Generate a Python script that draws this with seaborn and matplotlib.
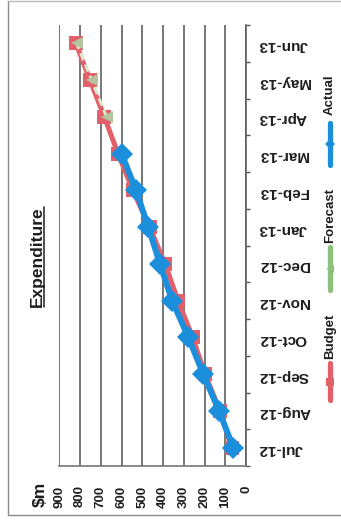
import numpy as np
import pandas as pd
import matplotlib
matplotlib.use("Agg")
import matplotlib.pyplot as plt
import seaborn as sns
from matplotlib.lines import Line2D

# ---------------- data ----------------
months = ["Jul-12", "Aug-12", "Sep-12", "Oct-12", "Nov-12", "Dec-12",
          "Jan-13", "Feb-13", "Mar-13", "Apr-13", "May-13", "Jun-13"]
budget = [69, 125, 198, 257, 328, 390, 465, 545, 617, 683, 752, 820]
forecast = [np.nan] * 9 + [672, 744, 816]
actual = [61, 130, 206, 278, 356, 415, 471, 530, 600] + [np.nan] * 3
value_ticks = [0, 100, 200, 300, 400, 500, 600, 700, 800, 900]
series_names = ["Budget", "Forecast", "Actual"]
title_text = "Expenditure"
unit_text = "$m"

RED = "#E1606A"
GREEN = "#8DC07C"
BLUE = "#1B8FDC"
TXT = "#1e1e1e"

sns.set_style("white")
plt.rcParams["font.family"] = ["Liberation Sans", "DejaVu Sans"]
plt.rcParams["font.weight"] = "bold"

W, H = 341, 522
fig = plt.figure(figsize=(W / 100, H / 100), dpi=100)
fig.patch.set_facecolor("white")

x_left, x_right = 59.3, 246.0
y_top, y_bot = 25.0, 466.0
ax = fig.add_axes([x_left / W, 1 - y_bot / H, (x_right - x_left) / W, (y_bot - y_top) / H])

df = pd.DataFrame({"Month": months, "Budget": budget, "Forecast": forecast, "Actual": actual})

sns.lineplot(data=df, x="Budget", y="Month", orient="y", sort=False, estimator=None,
             color=RED, lw=3.6, marker="s", markersize=9.5, markeredgewidth=0,
             ax=ax, zorder=3)
sns.lineplot(data=df.dropna(subset=["Forecast"]), x="Forecast", y="Month", orient="y",
             sort=False, estimator=None, color="#dce8cf", lw=2.2, dashes=False,
             linestyle=(0, (2.5, 1.5)), marker="<", markersize=8,
             markerfacecolor="#b3c59c", markeredgewidth=0, ax=ax, zorder=4)
sns.lineplot(data=df.dropna(subset=["Actual"]), x="Actual", y="Month", orient="y",
             sort=False, estimator=None, color=BLUE, lw=4.3, marker="D", markersize=11.5,
             markeredgewidth=0, ax=ax, zorder=5)

ax.set_xlim(900, 0)
ax.set_ylim(-0.5, len(months) - 0.5)
ax.set_xlabel("")
ax.set_ylabel("")

ax.set_xticks(value_ticks)
ax.set_xticklabels([str(v) for v in value_ticks], rotation=90, fontsize=9.5,
                   fontweight="bold", color=TXT)
ax.tick_params(axis="x", direction="out", length=3, width=1, color="#666666", pad=11)

ax.yaxis.tick_right()
ax.set_yticks(range(len(months)))
ax.set_yticklabels(months, rotation=180, fontsize=11, fontweight="bold", color=TXT)
ax.set_yticks(np.arange(-0.5, len(months), 1), minor=True)
ax.tick_params(axis="y", which="major", length=0, pad=9)
ax.tick_params(axis="y", which="minor", direction="out", length=3, width=1, color="#555555")

ax.grid(axis="x", color="#5f5f5f", lw=1.2)
ax.grid(axis="y", visible=False)
ax.set_axisbelow(True)
for s in ["top", "left"]:
    ax.spines[s].set_visible(False)
ax.spines["right"].set_color("#555555")
ax.spines["right"].set_linewidth(1.1)
ax.spines["bottom"].set_color("#777777")
ax.spines["bottom"].set_linewidth(1.2)
ax.spines["bottom"].set_linestyle((0, (3, 1)))

# unit label and title
fig.text(40 / W, 1 - 494 / H, unit_text, rotation=90, ha="center", va="center",
         fontsize=12.5, fontweight="bold", color=TXT)
title = fig.text(37 / W, 1 - 257 / H, title_text, rotation=90, ha="center", va="center",
                 fontsize=12.5, fontweight="bold", color=TXT)

# manual rotated legend
legend_spec = [
    (series_names[0], RED, "s", (363, 400), 336),
    (series_names[1], GREEN, "<", (247, 290), 216),
    (series_names[2], BLUE, "D", (123, 165), 95),
]
lx = 330 / W
for name, col, mk, (k0, k1), ty in legend_spec:
    fig.add_artist(Line2D([lx, lx], [1 - k1 / H, 1 - k0 / H], transform=fig.transFigure,
                          color=col, lw=3.8, solid_capstyle="round"))
    fig.add_artist(Line2D([lx], [1 - (k0 + k1) / 2 / H], transform=fig.transFigure,
                          color=col, marker=mk, markersize=5.5, markeredgewidth=0))
    fig.text(lx, 1 - ty / H, name, rotation=90, ha="center", va="center",
             fontsize=9.5, fontweight="bold", color=TXT)

# chart frame (left, bottom, top)
fc = "#8a8a8a"
fig.add_artist(Line2D([8 / W, 8 / W], [1 - 515 / H, 1 - 1 / H], transform=fig.transFigure, color=fc, lw=1))
fig.add_artist(Line2D([8 / W, 1], [1 - 515 / H, 1 - 515 / H], transform=fig.transFigure, color=fc, lw=1))
fig.add_artist(Line2D([8 / W, 1], [1 - 1 / H, 1 - 1 / H], transform=fig.transFigure, color="#bbbbbb", lw=1))

# underline for the title (right side of rotated text)
fig.canvas.draw()
bb = title.get_window_extent(renderer=fig.canvas.get_renderer())
ux = (bb.x1 - 0.5) / W
fig.add_artist(Line2D([ux, ux], [bb.y0 / H, bb.y1 / H], transform=fig.transFigure,
                      color=TXT, lw=1.1))

fig.savefig("out.png", dpi=100, facecolor="white")
